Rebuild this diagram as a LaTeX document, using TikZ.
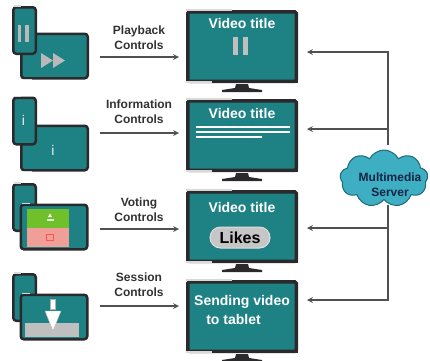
\documentclass[tikz,border=0pt]{standalone}
\usepackage{fontspec}
\setmainfont{Liberation Sans}
\usetikzlibrary{shapes.symbols}
\definecolor{tvteal}{RGB}{30,130,133}
\definecolor{tvframe}{RGB}{42,42,44}
\definecolor{wire}{RGB}{80,80,80}
\definecolor{labelgray}{RGB}{50,50,50}
\definecolor{cloudfill}{RGB}{62,174,194}
\definecolor{cloudedge}{RGB}{30,105,115}
\definecolor{cloudtext}{RGB}{22,36,70}
\definecolor{votegreen}{RGB}{112,192,44}
\definecolor{votepink}{RGB}{240,158,152}

\begin{document}
\begin{tikzpicture}[x=1pt,y=-1pt,
  tv/.style={draw=tvframe, line width=3.5pt, fill=tvteal, rounded corners=1.5pt,
    minimum width=108.5pt, minimum height=69.5pt},
  phone/.style={draw=tvframe, line width=2.5pt, fill=tvteal, rounded corners=3pt,
    minimum width=22.5pt, minimum height=46.5pt},
  tablet/.style={draw=tvframe, line width=2.5pt, fill=tvteal, rounded corners=3pt,
    minimum width=66.5pt, minimum height=44.5pt},
  glint/.style={draw=white!70!gray, line width=1.4pt},
  stand/.style={fill=tvframe},
  wirearrow/.style={->, >=stealth, line width=1.6pt, draw=wire},
  bus/.style={line width=1.6pt, draw=wire, line cap=rect},
  ctrl/.style={align=center, text=labelgray, font=\bfseries\fontsize{12}{15}\selectfont},
  tvtext/.style={text=white, font=\bfseries\fontsize{14}{19}\selectfont},
  icongray/.style={fill=gray!55}
]
\useasboundingbox (0,0) rectangle (430,360);

% devices on the left
\node[tablet] (tab1) at (54.5,56) {};
\node[phone] (ph1) at (24.5,30.5) {};
\fill[icongray] (17.5,25) rectangle (21,42);
\fill[icongray] (25,25) rectangle (28.5,42);
\fill[icongray] (41,53) -- (41,68) -- (53,60.5) -- cycle;
\fill[icongray] (53,53) -- (53,68) -- (65,60.5) -- cycle;

\node[tablet] (tab2) at (54.5,148) {};
\node[phone] (ph2) at (24.5,121) {};
\node[text=white!85!gray, font=\fontsize{14}{14}\selectfont] (info1) at (23.5,120) {i};
\node[text=white!85!gray, font=\fontsize{14}{14}\selectfont] (info2) at (53,150) {i};

\node[phone] (ph3) at (24.5,207.5) {};
\node[tablet] (tab3) at (54,227) {};
\fill[votegreen] (27,209) rectangle (69,228);
\fill[votepink] (27,228) rectangle (69,247);
\fill[white] (48,217) -- (52,217) -- (50,213.5) -- cycle;
\fill[white!80!votegreen] (46.5,219) rectangle (53.5,220.5);
\draw[red!45!votepink, line width=0.6pt] (46.5,234.5) rectangle (53.5,240);

\node[phone] (ph4) at (24.5,297.5) {};
\node[tablet] (tab4) at (54,317) {};
\fill[gray!50] (25,323) rectangle (79,337);
\filldraw[fill=white, draw=gray!60] (50.5,299) rectangle (55.5,309);
\filldraw[fill=white, draw=gray!60] (45,311) -- (61,311) -- (53,331) -- cycle;

\draw[glint] ([xshift=2pt]ph1.north west) -- ([xshift=9pt]ph1.north west);
\draw[glint] ([xshift=2pt]ph2.north west) -- ([xshift=9pt]ph2.north west);
\draw[glint] ([xshift=2pt]ph3.north west) -- ([xshift=9pt]ph3.north west);
\draw[glint] ([xshift=2pt]ph4.north west) -- ([xshift=9pt]ph4.north west);
\draw[glint] ([xshift=2pt]tab3.north west) -- ([xshift=10pt]tab3.north west);
\draw[glint] ([xshift=2pt]tab4.north west) -- ([xshift=10pt]tab4.north west);
\draw[glint] ([xshift=3pt]tab1.south west) -- ([xshift=12pt]tab1.south west);
\draw[glint] ([xshift=3pt]tab2.south west) -- ([xshift=12pt]tab2.south west);

% televisions
\node[tv] (tv1) at (242,46.5) {};
\node[tv] (tv2) at (242,135.5) {};
\node[tv] (tv3) at (242,226.5) {};
\node[tv] (tv4) at (242,316.5) {};

\fill[tvframe] ([yshift=3.5pt]tv1.south west) rectangle (tv1.south east);
\fill[tvframe] ([yshift=3.5pt]tv2.south west) rectangle (tv2.south east);
\fill[tvframe] ([yshift=3.5pt]tv3.south west) rectangle (tv3.south east);
\fill[tvframe] ([yshift=3.5pt]tv4.south west) rectangle (tv4.south east);

\fill[stand, shift={(tv1.south)}] (-6,1) -- (6,1) -- (7,5) -- (20,7) -- (20,9) -- (-20,9) -- (-20,7) -- (-7,5) -- cycle;
\fill[stand, shift={(tv2.south)}] (-6,1) -- (6,1) -- (7,5) -- (20,7) -- (20,9) -- (-20,9) -- (-20,7) -- (-7,5) -- cycle;
\fill[stand, shift={(tv3.south)}] (-6,1) -- (6,1) -- (7,5) -- (20,7) -- (20,9) -- (-20,9) -- (-20,7) -- (-7,5) -- cycle;
\fill[stand, shift={(tv4.south)}] (-6,1) -- (6,1) -- (7,5) -- (20,7) -- (20,9) -- (-20,9) -- (-20,7) -- (-7,5) -- cycle;

\draw[glint] (tv1.north west) -- ([xshift=46pt]tv1.north west);
\draw[glint] (tv2.north west) -- ([xshift=46pt]tv2.north west);
\draw[glint] (tv3.north west) -- ([xshift=46pt]tv3.north west);
\draw[glint] (tv4.north west) -- ([xshift=46pt]tv4.north west);
\draw[glint] ([yshift=1pt]tv1.south west) -- ([xshift=26pt,yshift=1pt]tv1.south west);
\draw[glint] ([yshift=1pt]tv2.south west) -- ([xshift=26pt,yshift=1pt]tv2.south west);
\draw[glint] ([yshift=1pt]tv3.south west) -- ([xshift=26pt,yshift=1pt]tv3.south west);
\draw[glint] ([yshift=1pt]tv4.south west) -- ([xshift=26pt,yshift=1pt]tv4.south west);

% what each screen shows
\node[tvtext] (vt1) at (242,23.5) {Video title};
\fill[gray!50] (233,37) rectangle (238,55);
\fill[gray!50] (243,37) rectangle (248,55);

\node[tvtext] (vt2) at (242,113) {Video title};
\draw[white, line width=1.5pt] (196,127) -- (290,127);
\draw[white, line width=1.5pt] (196,132) -- (290,132);
\draw[white, line width=1.5pt] (196,137) -- (262,137);

\node[tvtext] (vt3) at (242,207.5) {Video title};
\node[draw=white!75!gray, line width=1pt, fill=gray!45, rounded corners=10.5pt,
  minimum width=60pt, minimum height=21pt, font=\bfseries\fontsize{16}{16}\selectfont]
  (likes) at (240,237.5) {Likes};

\node[tvtext, anchor=base] (send) at (242,305) {Sending video};
\node[tvtext, anchor=base] (totab) at (233.5,324) {to tablet};

% control labels and arrows
\node[ctrl] (lab1) at (139,37.5) {Playback\\Controls};
\node[ctrl] (lab2) at (139,111.5) {Information\\Controls};
\node[ctrl] (lab3) at (139,210) {Voting\\Controls};
\node[ctrl] (lab4) at (139,285) {Session\\Controls};

\coordinate (a1) at (100,57);
\coordinate (a2) at (100,133);
\coordinate (a3) at (100,229);
\coordinate (a4) at (100,306);
\draw[wirearrow, shorten >=7pt] (a1) -- (a1 -| tv1.west);
\draw[wirearrow, shorten >=7pt] (a2) -- (a2 -| tv2.west);
\draw[wirearrow, shorten >=7pt] (a3) -- (a3 -| tv3.west);
\draw[wirearrow, shorten >=7pt] (a4) -- (a4 -| tv4.west);

% server and its links
\coordinate (b1) at (388,52);
\coordinate (b2) at (388,129);
\coordinate (b3) at (388,228);
\coordinate (b4) at (388,300);
\node[cloud, cloud puffs=9, cloud puff arc=125, aspect=1.6, draw=cloudedge, line width=1pt,
  fill=cloudfill, minimum width=88pt, minimum height=57pt, inner sep=0pt] (server) at (384,178.5) {};
\node[align=center, text=cloudtext, font=\bfseries\fontsize{12}{15}\selectfont] (srvname) at (390,184.5) {Multimedia\\Server};

\draw[bus] (b1) -- (b2) -- ([yshift=5pt]b2 |- server.north);
\draw[bus] ([yshift=-5pt]b3 |- server.south) -- (b3) -- (b4);
\draw[wirearrow, shorten >=9pt] (b1) -- (b1 -| tv1.east);
\draw[wirearrow, shorten >=9pt] (b2) -- (b2 -| tv2.east);
\draw[wirearrow, shorten >=9pt] (b3) -- (b3 -| tv3.east);
\draw[wirearrow, shorten >=9pt] (b4) -- (b4 -| tv4.east);
\end{tikzpicture}
\end{document}
